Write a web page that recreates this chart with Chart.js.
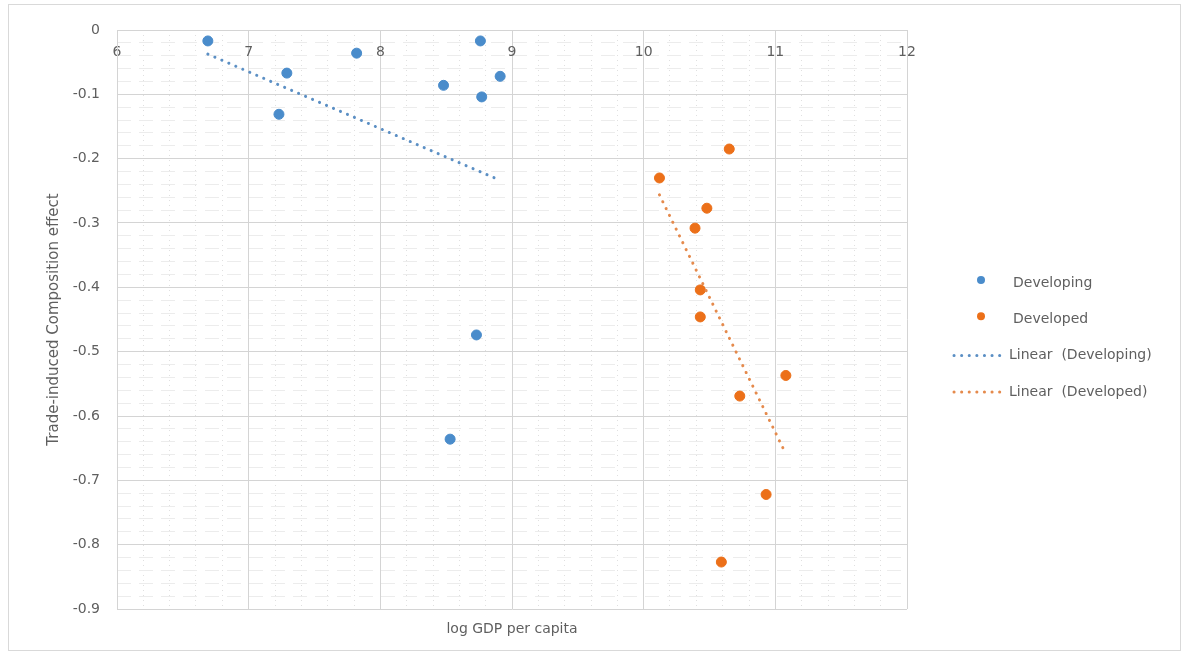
<!DOCTYPE html>
<html>
<head>
<meta charset="utf-8">
<title>Trade-induced Composition effect</title>
<script src="https://cdn.jsdelivr.net/npm/chart.js@4.4.1/dist/chart.umd.min.js"></script>
<style>
  html, body { margin: 0; padding: 0; background: #fff; }
  #wrap { position: absolute; left: 0; top: 0; width: 1189px; height: 658px; }
</style>
</head>
<body>
<div id="wrap"><canvas id="chart" width="1189" height="658"></canvas></div>
<script>
// values
const developingX = [6.69, 7.29, 7.23, 7.82, 8.48, 8.76, 8.77, 8.91, 8.73, 8.53];
const developingY = [-0.017, -0.067, -0.131, -0.036, -0.086, -0.017, -0.104, -0.072, -0.474, -0.636];
const developedX = [10.12, 10.65, 10.48, 10.39, 10.43, 10.43, 11.08, 10.73, 10.93, 10.59];
const developedY = [-0.230, -0.185, -0.277, -0.308, -0.404, -0.446, -0.537, -0.569, -0.722, -0.827];

const xTicks = [6, 7, 8, 9, 10, 11, 12];
const yTicks = [-0.9, -0.8, -0.7, -0.6, -0.5, -0.4, -0.3, -0.2, -0.1, 0];
const seriesNames = ['Developing', 'Developed', 'Linear  (Developing)', 'Linear  (Developed)'];

const BLUE = '#4a8ccb';
const ORANGE = '#ec7019';
const TEXT = '#5f5f5f';
const FONT = "'DejaVu Sans', sans-serif";

function toPoints(xs, ys) {
  return xs.map((x, i) => ({ x: x, y: ys[i] }));
}

// least squares trend line, like Excel's linear trendline
function trend(xs, ys) {
  const n = xs.length;
  const mx = xs.reduce((a, b) => a + b, 0) / n;
  const my = ys.reduce((a, b) => a + b, 0) / n;
  let sxy = 0, sxx = 0;
  xs.forEach((x, i) => {
    sxy += (x - mx) * (ys[i] - my);
    sxx += (x - mx) * (x - mx);
  });
  const b = sxy / sxx;
  const lo = Math.min(...xs), hi = Math.max(...xs);
  return [{ x: lo, y: my + b * (lo - mx) }, { x: hi, y: my + b * (hi - mx) }];
}

// frame around the whole chart
const framePlugin = {
  id: 'frame',
  beforeDraw(chart) {
    const ctx = chart.ctx;
    ctx.save();
    ctx.fillStyle = '#fff';
    ctx.fillRect(0, 0, chart.width, chart.height);
    ctx.strokeStyle = '#d9d9d9';
    ctx.lineWidth = 1;
    ctx.strokeRect(8.5, 4.5, 1172, 646);
    ctx.restore();
  }
};

// Excel style legend on the right
const sideLegend = {
  id: 'sideLegend',
  afterDraw(chart) {
    const ctx = chart.ctx;
    ctx.save();
    ctx.font = '14px ' + FONT;
    ctx.textBaseline = 'middle';
    ctx.fillStyle = TEXT;
    chart.data.datasets.forEach((ds, i) => {
      const y = 283 + i * 36.3;
      if (ds.showLine) {
        ctx.strokeStyle = ds.borderColor;
        ctx.lineWidth = 3;
        ctx.lineCap = 'round';
        ctx.setLineDash([0.1, 7.5]);
        ctx.beginPath();
        ctx.moveTo(954, y);
        ctx.lineTo(1006, y);
        ctx.stroke();
        ctx.setLineDash([]);
        ctx.fillStyle = TEXT;
        ctx.fillText(ds.label, 1009, y);
      } else {
        ctx.fillStyle = ds.backgroundColor;
        ctx.beginPath();
        ctx.arc(981, y - 3, 4, 0, Math.PI * 2);
        ctx.fill();
        ctx.fillStyle = TEXT;
        ctx.fillText(ds.label, 1013, y);
      }
    });
    ctx.restore();
  }
};

new Chart(document.getElementById('chart'), {
  type: 'scatter',
  data: {
    datasets: [
      {
        label: seriesNames[0],
        data: toPoints(developingX, developingY),
        backgroundColor: BLUE,
        borderColor: BLUE,
        pointRadius: 5,
        order: 1
      },
      {
        label: seriesNames[1],
        data: toPoints(developedX, developedY),
        backgroundColor: ORANGE,
        borderColor: ORANGE,
        pointRadius: 5,
        order: 1
      },
      {
        label: seriesNames[2],
        data: trend(developingX, developingY),
        showLine: true,
        borderColor: '#5b8fc4',
        borderWidth: 3,
        borderDash: [0.1, 7.5],
        borderCapStyle: 'round',
        pointRadius: 0,
        order: 0
      },
      {
        label: seriesNames[3],
        data: trend(developedX, developedY),
        showLine: true,
        borderColor: '#e58a4c',
        borderWidth: 3,
        borderDash: [0.1, 7.5],
        borderCapStyle: 'round',
        pointRadius: 0,
        order: 0
      }
    ]
  },
  options: {
    responsive: false,
    animation: false,
    layout: { padding: { left: 41, right: 282, top: 30, bottom: 16 } },
    plugins: {
      legend: { display: false },
      tooltip: { enabled: false }
    },
    scales: {
      xMinor: {
        type: 'linear',
        position: 'top',
        min: 6,
        max: 12,
        ticks: { display: false, stepSize: 0.2, maxTicksLimit: 1000 },
        grid: { color: '#e0e0e0', drawTicks: false },
        border: { display: false, dash: [1, 4] }
      },
      yMinor: {
        type: 'linear',
        position: 'right',
        min: -0.9,
        max: 0,
        ticks: { display: false, stepSize: 0.02, maxTicksLimit: 1000 },
        grid: { color: '#ececec', drawTicks: false },
        border: { display: false, dash: [14, 8] }
      },
      x: {
        type: 'linear',
        position: { y: 0 },
        min: 6,
        max: 12,
        afterBuildTicks: s => { s.ticks = xTicks.map(v => ({ value: v })); },
        ticks: { color: TEXT, font: { family: FONT, size: 14 }, padding: 14 },
        grid: { color: '#d4d4d4', drawTicks: false },
        border: { color: '#d4d4d4' }
      },
      x2: {
        type: 'linear',
        position: 'bottom',
        min: 6,
        max: 12,
        afterFit: s => { s.height = 33; },
        ticks: { display: false },
        grid: { display: false },
        border: { display: false },
        title: {
          display: true,
          text: 'log GDP per capita',
          color: TEXT,
          font: { family: FONT, size: 14 },
          padding: { top: 4, bottom: 4 }
        }
      },
      y: {
        type: 'linear',
        position: 'left',
        min: -0.9,
        max: 0,
        afterBuildTicks: s => { s.ticks = yTicks.map(v => ({ value: v })); },
        afterFit: s => { s.width = 76; },
        ticks: { color: TEXT, font: { family: FONT, size: 14 }, padding: 17 },
        grid: { color: '#d4d4d4', drawTicks: false },
        border: { color: '#d4d4d4' },
        title: {
          display: true,
          text: 'Trade-induced Composition effect',
          color: TEXT,
          font: { family: FONT, size: 15 },
          padding: { top: 4, bottom: 4 }
        }
      }
    }
  },
  plugins: [framePlugin, sideLegend]
});
</script>
</body>
</html>
